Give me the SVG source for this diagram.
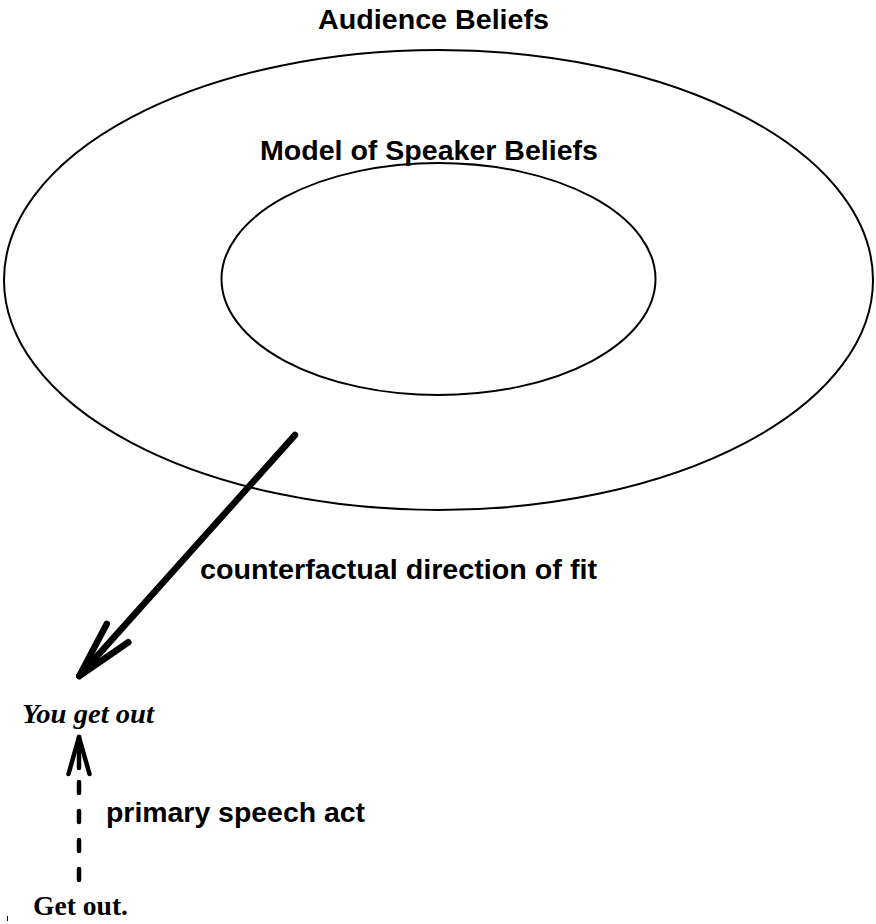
<svg xmlns="http://www.w3.org/2000/svg" width="876" height="924" viewBox="0 0 876 924">
  <style>
    .ring { fill: none; stroke: #000; stroke-width: 2; }
    .lbl { font-family: "Liberation Sans", Arial, Helvetica, sans-serif; font-weight: bold; font-size: 27px; fill: #000; }
    .utt { font-family: "Liberation Serif", "Times New Roman", serif; font-size: 28px; fill: #000; }
    .fit { fill: none; stroke: #000; stroke-width: 6.5; stroke-linecap: round; stroke-linejoin: round; }
    .act { fill: none; stroke: #000; stroke-width: 4.5; stroke-linecap: round; stroke-linejoin: round; }
  </style>
  <rect width="876" height="924" fill="#fff"/>

  <!-- outer belief set -->
  <g id="audience-beliefs">
    <ellipse class="ring" cx="438.5" cy="280" rx="434.5" ry="230"/>
    <text class="lbl" x="318" y="29" textLength="231" lengthAdjust="spacingAndGlyphs">Audience Beliefs</text>
  </g>

  <!-- nested belief set -->
  <g id="speaker-beliefs">
    <ellipse class="ring" cx="438.5" cy="279" rx="217" ry="116"/>
    <text class="lbl" x="260" y="160" textLength="338" lengthAdjust="spacingAndGlyphs">Model of Speaker Beliefs</text>
  </g>

  <g id="you-get-out">
    <text class="utt" x="22" y="723" font-style="italic" font-weight="bold" font-size="27" textLength="132" lengthAdjust="spacingAndGlyphs">You get out</text>
  </g>

  <g id="get-out">
    <text class="utt" x="33" y="915" font-weight="bold" font-size="27" textLength="95" lengthAdjust="spacingAndGlyphs">Get out.</text>
  </g>

  <g id="connectors">
    <!-- counterfactual direction of fit -->
    <path class="fit" d="M295 435 L79.3 676"/>
    <path class="fit" d="M106.7 624 L79.3 676 L128.3 642.3"/>
    <text class="lbl" x="200" y="579" textLength="397" lengthAdjust="spacingAndGlyphs">counterfactual direction of fit</text>

    <!-- primary speech act -->
    <path class="act" d="M79 880 V782" stroke-dasharray="11 18"/>
    <path class="act" d="M79 737 V768"/>
    <path class="act" d="M68.5 774 L79 737 L89.5 774"/>
    <text class="lbl" x="106" y="822" textLength="259" lengthAdjust="spacingAndGlyphs">primary speech act</text>
  </g>

  <!-- stray tick at the lower left edge -->
  <line x1="7.5" y1="916" x2="7.5" y2="921" stroke="#000" stroke-width="1"/>
</svg>
